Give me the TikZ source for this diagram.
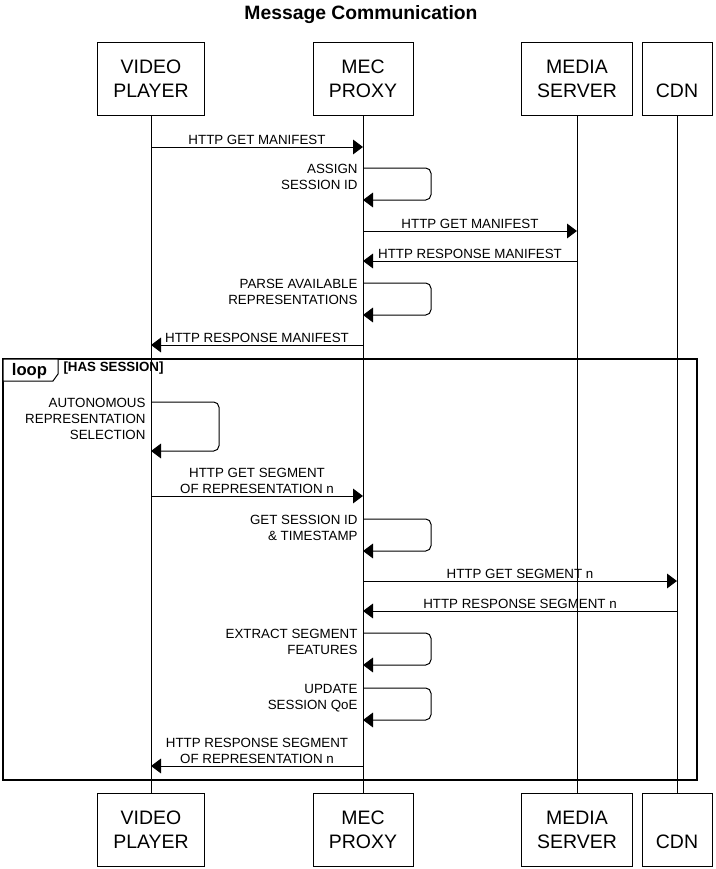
\documentclass[tikz,border=0pt]{standalone}
\usepackage{fontspec}
\setmainfont{Liberation Sans}
\usetikzlibrary{arrows.meta}

\begin{document}
\begin{tikzpicture}[x=0.75pt,y=-0.75pt,line width=0.75pt,
  actor/.style={rectangle,draw,fill=white,minimum height=54.75pt,inner sep=0pt,align=center,font=\fontsize{14.6}{18}\selectfont},
  msg/.style={-{Triangle[length=7.5pt,width=11pt]}},
  selfmsg/.style={msg,rounded corners=4pt},
  msgtext/.style={above=1.3pt,inner sep=0pt,align=center,font=\fontsize{10}{12}\selectfont},
  selftext/.style={anchor=north east,xshift=-3.75pt,yshift=3pt,inner sep=0pt,align=right,font=\fontsize{10}{12}\selectfont},
  loopframe/.style={line width=1.2pt}]

  \useasboundingbox (0,0) rectangle (716,869);

  \node[font=\bfseries\fontsize{14.5}{17}\selectfont,anchor=base] (title) at (361,19) {Message Communication};

  % loop frame
  \draw[loopframe] (3,359) rectangle (697,780);
  \draw[fill=white] (3,359) -- (58,359) -- (58,374) -- (53,381) -- (3,381) -- cycle;
  \node[anchor=base,inner sep=0pt,font=\bfseries\fontsize{12.5}{15}\selectfont] (looplabel) at (29.5,375) {loop};
  \node[anchor=base west,inner sep=0pt,font=\bfseries\fontsize{10}{12}\selectfont] (guard) at (63,371.5) {[HAS SESSION]};

  % participants
  \node[actor,minimum width=80.25pt] (vp) at (151,78.5) {VIDEO\\PLAYER};
  \node[actor,minimum width=75pt] (mec) at (363,78.5) {MEC\\PROXY};
  \node[actor,minimum width=83.25pt] (ms) at (577,78.5) {MEDIA\\SERVER};
  \node[actor,minimum width=52.5pt] (cdn) at (677,78.5) {\vphantom{X}\\CDN};

  \node[actor,minimum width=80.25pt] (vpb) at (151,829.5) {VIDEO\\PLAYER};
  \node[actor,minimum width=75pt] (mecb) at (363,829.5) {MEC\\PROXY};
  \node[actor,minimum width=83.25pt] (msb) at (577,829.5) {MEDIA\\SERVER};
  \node[actor,minimum width=52.5pt] (cdnb) at (677,829.5) {\vphantom{X}\\CDN};

  % lifelines
  \draw (vp) -- (vpb);
  \draw (mec) -- (mecb);
  \draw (ms) -- (msb);
  \draw (cdn) -- (cdnb);

  % message rows
  \coordinate (m1) at (0,147);
  \coordinate (s1) at (0,168);
  \coordinate (m2) at (0,231);
  \coordinate (m3) at (0,261);
  \coordinate (s2) at (0,283);
  \coordinate (m4) at (0,345);
  \coordinate (s3) at (0,402);
  \coordinate (m5) at (0,496);
  \coordinate (s4) at (0,519);
  \coordinate (m6) at (0,581);
  \coordinate (m7) at (0,611);
  \coordinate (s5) at (0,633);
  \coordinate (s6) at (0,688);
  \coordinate (m8) at (0,766);

  \draw[msg] (vp |- m1) -- node[msgtext] {HTTP GET MANIFEST} (mec |- m1);
  \draw[selfmsg] (mec |- s1) node[selftext] {ASSIGN\\SESSION ID} -- ++(68,0) -- ++(0,32) -- ++(-68,0);
  \draw[msg] (mec |- m2) -- node[msgtext] {HTTP GET MANIFEST} (ms |- m2);
  \draw[msg] (ms |- m3) -- node[msgtext] {HTTP RESPONSE MANIFEST} (mec |- m3);
  \draw[selfmsg] (mec |- s2) node[selftext] {PARSE AVAILABLE\\REPRESENTATIONS} -- ++(68,0) -- ++(0,32) -- ++(-68,0);
  \draw[msg] (mec |- m4) -- node[msgtext] {HTTP RESPONSE MANIFEST} (vp |- m4);

  \draw[selfmsg] (vp |- s3) node[selftext] {AUTONOMOUS\\REPRESENTATION\\SELECTION} -- ++(68,0) -- ++(0,49) -- ++(-68,0);
  \draw[msg] (vp |- m5) -- node[msgtext] {HTTP GET SEGMENT\\OF REPRESENTATION n} (mec |- m5);
  \draw[selfmsg] (mec |- s4) node[selftext] {GET SESSION ID\\\& TIMESTAMP} -- ++(68,0) -- ++(0,32) -- ++(-68,0);
  \draw[msg] (mec |- m6) -- node[msgtext] {HTTP GET SEGMENT n} (cdn |- m6);
  \draw[msg] (cdn |- m7) -- node[msgtext] {HTTP RESPONSE SEGMENT n} (mec |- m7);
  \draw[selfmsg] (mec |- s5) node[selftext] {EXTRACT SEGMENT\\FEATURES} -- ++(68,0) -- ++(0,32) -- ++(-68,0);
  \draw[selfmsg] (mec |- s6) node[selftext] {UPDATE\\SESSION QoE} -- ++(68,0) -- ++(0,32) -- ++(-68,0);
  \draw[msg] (mec |- m8) -- node[msgtext] {HTTP RESPONSE SEGMENT\\OF REPRESENTATION n} (vp |- m8);

\end{tikzpicture}
\end{document}
